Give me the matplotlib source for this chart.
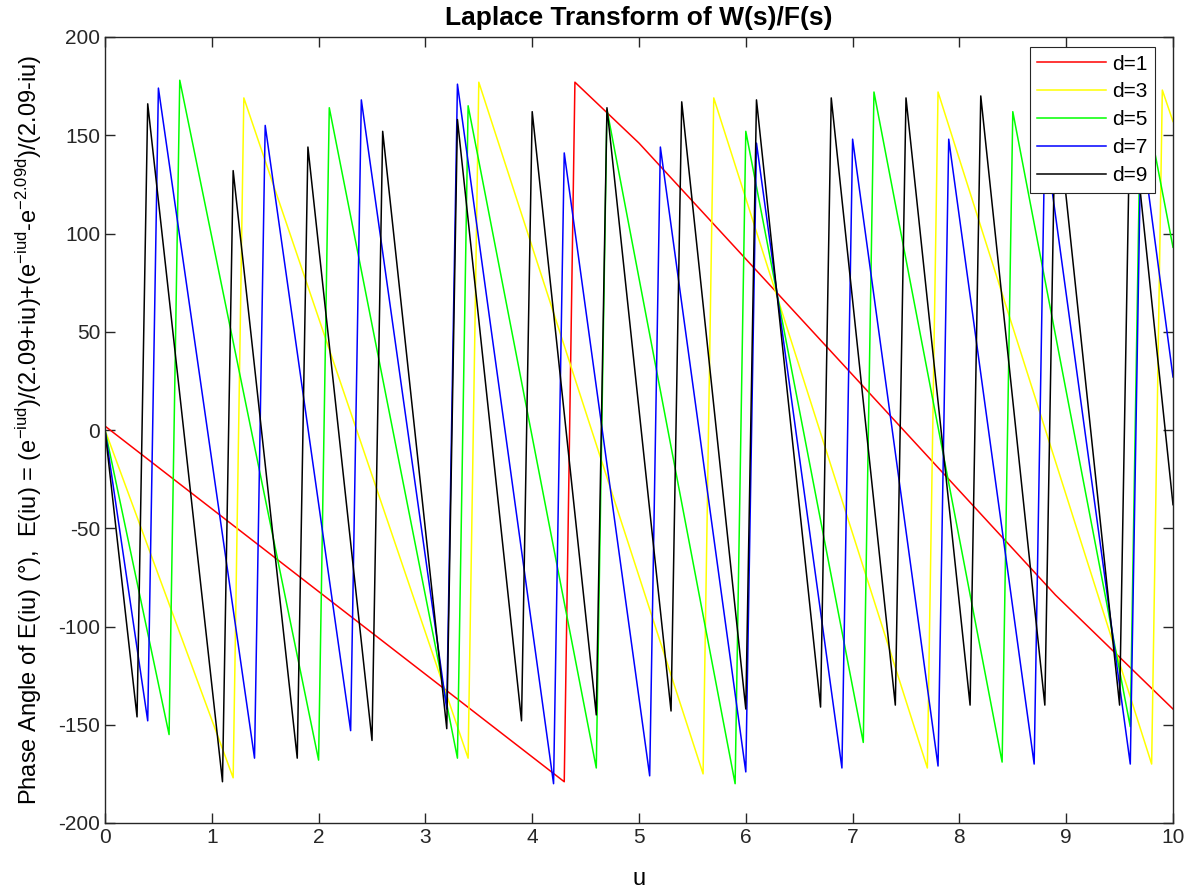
"""
Phase angle of E(iu) for several delays d (MATLAB-style recreation).
"""

import matplotlib

matplotlib.use("Agg")
import matplotlib.pyplot as plt

# Vertices (samples every 0.1 in u; straight runs between them)
u_d1 = [0.0, 4.3, 4.4, 5.0, 8.9, 10.0]
phase_d1 = [2, -179, 177, 146, -84, -142]

u_d3 = [0.0, 1.2, 1.3, 3.4, 3.5, 5.6, 5.7, 7.7, 7.8, 9.8, 9.9, 10.0]
phase_d3 = [0, -177, 169, -167, 177, -175, 169, -172, 172, -170, 173, 157]

u_d5 = [0.0, 0.6, 0.7, 2.0, 2.1, 3.3, 3.4, 4.6, 4.7, 5.9, 6.0, 7.1, 7.2, 8.4, 8.5, 9.6, 9.7, 10.0]
phase_d5 = [0, -155, 178, -168, 164, -167, 165, -172, 163, -180, 152, -159, 172, -169, 162, -151, 178, 93]

u_d7 = [0.0, 0.4, 0.5, 1.4, 1.5, 2.3, 2.4, 3.2, 3.3, 4.2, 4.3, 5.1, 5.2, 6.0, 6.1,
        6.9, 7.0, 7.8, 7.9, 8.7, 8.8, 9.6, 9.7, 10.0]
phase_d7 = [0, -148, 174, -167, 155, -153, 168, -142, 176, -180, 141, -176, 144, -174, 146,
            -172, 148, -171, 148, -170, 149, -170, 150, 27]

u_d9 = [0.0, 0.3, 0.4, 1.1, 1.2, 1.8, 1.9, 2.5, 2.6, 3.2, 3.3, 3.9, 4.0, 4.6, 4.7,
        5.3, 5.4, 6.0, 6.1, 6.7, 6.8, 7.4, 7.5, 8.1, 8.2, 8.8, 8.9, 9.5, 9.6, 10.0]
phase_d9 = [0, -146, 166, -179, 132, -167, 144, -158, 152, -152, 158, -148, 162, -145, 164,
            -143, 167, -142, 168, -141, 169, -140, 169, -140, 170, -140, 170, -140, 170, -38]

series = [
    ("d=1", u_d1, phase_d1, "#ff0000"),
    ("d=3", u_d3, phase_d3, "#ffff00"),
    ("d=5", u_d5, phase_d5, "#00ff00"),
    ("d=7", u_d7, phase_d7, "#0000ff"),
    ("d=9", u_d9, phase_d9, "#000000"),
]

plt.rcParams["font.family"] = ["Liberation Sans", "DejaVu Sans"]
plt.rcParams["mathtext.fontset"] = "custom"
plt.rcParams["mathtext.rm"] = "Liberation Sans"
plt.rcParams["mathtext.it"] = "Liberation Sans"
plt.rcParams["axes.unicode_minus"] = False

fig = plt.figure(figsize=(11.95, 8.92), dpi=100)
ax = fig.add_axes([105 / 1195, 69 / 892, 1068 / 1195, 786 / 892])

for label, u, ph, color in series:
    ax.plot(u, ph, color=color, linewidth=1.1, label=label)

ax.set_xlim(0, 10)
ax.set_ylim(-200, 200)
ax.set_xticks(range(0, 11))
ax.set_yticks(range(-200, 201, 50))

axis_color = "#262626"
for spine in ax.spines.values():
    spine.set_color(axis_color)
    spine.set_linewidth(1.0)
ax.tick_params(direction="in", top=True, right=True, length=7, width=1.0,
               colors=axis_color, labelsize=15, labelcolor=axis_color)

ax.set_title("Laplace Transform of W(s)/F(s)", fontsize=19, fontweight="bold", pad=9)
ax.set_xlabel("u", fontsize=17, labelpad=15)
ax.set_ylabel(
    "Phase Angle of E(iu) (°),  E(iu) = (e$^{-iud}$)/(2.09+iu)+(e$^{-iud}$-e$^{-2.09d}$)/(2.09-iu)",
    fontsize=17, labelpad=10,
)

leg = ax.legend(loc="upper right", bbox_to_anchor=(0.983, 0.987), borderaxespad=0.0,
                fontsize=15, fancybox=False, framealpha=1.0, edgecolor="#262626",
                handlelength=3.3, handletextpad=0.3, labelspacing=0.43,
                borderpad=0.35)
leg.get_frame().set_linewidth(0.8)

fig.savefig("out.png", dpi=100)
